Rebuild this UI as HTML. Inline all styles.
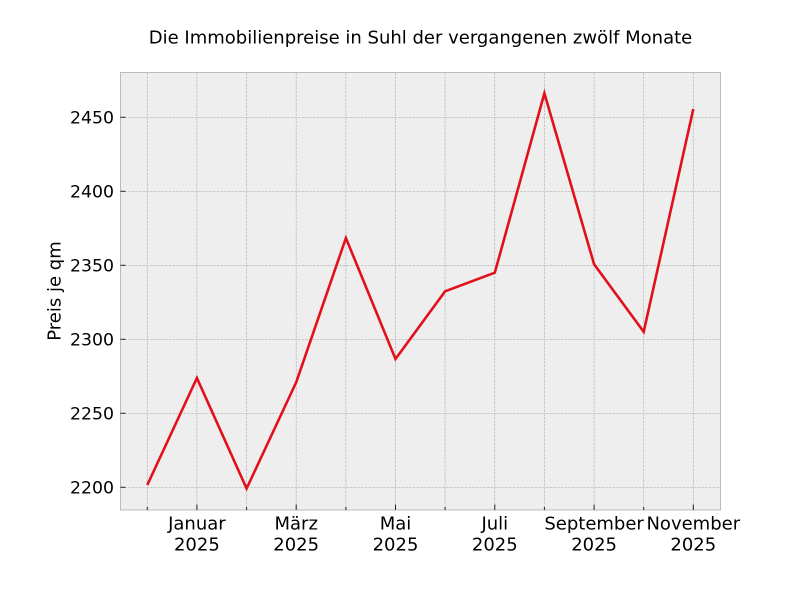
<!DOCTYPE html>
<html><head><meta charset="utf-8"><style>
html,body{margin:0;padding:0;background:#fff;}
svg{display:block;}
text{font-family:"DejaVu Sans","Liberation Sans",sans-serif;fill:#000;}
</style></head><body>
<svg width="800" height="600" viewBox="0 0 800 600" xmlns="http://www.w3.org/2000/svg">
<rect x="0" y="0" width="800" height="600" fill="#fff"/>
<rect x="120.5" y="72.5" width="600" height="437.5" fill="#eeeeee"/>
<g stroke="#b2b2b2" stroke-width="0.7" stroke-dasharray="2.6 1.1" fill="none">
<line x1="147.3" y1="72.5" x2="147.3" y2="510"/>
<line x1="196.9" y1="72.5" x2="196.9" y2="510"/>
<line x1="246.6" y1="72.5" x2="246.6" y2="510"/>
<line x1="296.2" y1="72.5" x2="296.2" y2="510"/>
<line x1="345.9" y1="72.5" x2="345.9" y2="510"/>
<line x1="395.5" y1="72.5" x2="395.5" y2="510"/>
<line x1="445.1" y1="72.5" x2="445.1" y2="510"/>
<line x1="494.8" y1="72.5" x2="494.8" y2="510"/>
<line x1="544.4" y1="72.5" x2="544.4" y2="510"/>
<line x1="594.1" y1="72.5" x2="594.1" y2="510"/>
<line x1="643.7" y1="72.5" x2="643.7" y2="510"/>
<line x1="693.3" y1="72.5" x2="693.3" y2="510"/>
<line x1="120.5" y1="487.3" x2="720.5" y2="487.3"/>
<line x1="120.5" y1="413.3" x2="720.5" y2="413.3"/>
<line x1="120.5" y1="339.3" x2="720.5" y2="339.3"/>
<line x1="120.5" y1="265.3" x2="720.5" y2="265.3"/>
<line x1="120.5" y1="191.3" x2="720.5" y2="191.3"/>
<line x1="120.5" y1="117.3" x2="720.5" y2="117.3"/>
</g>
<polyline fill="none" stroke="#e2101c" stroke-width="2.6" stroke-linejoin="miter"
points="147.3,485 196.9,378 246.6,488.5 296.2,382.3 345.9,238 395.5,359 445.1,291.3 494.8,272.7 544.4,93.3 594.1,264.3 643.7,331.8 693.3,109"/>
<rect x="120.5" y="72.5" width="600" height="437.5" fill="none" stroke="#bcbcbc" stroke-width="1"/>
<g stroke="#222" stroke-width="1">
<line x1="120.5" y1="487.3" x2="125.5" y2="487.3"/>
<line x1="120.5" y1="413.3" x2="125.5" y2="413.3"/>
<line x1="120.5" y1="339.3" x2="125.5" y2="339.3"/>
<line x1="120.5" y1="265.3" x2="125.5" y2="265.3"/>
<line x1="120.5" y1="191.3" x2="125.5" y2="191.3"/>
<line x1="120.5" y1="117.3" x2="125.5" y2="117.3"/>
<line x1="196.9" y1="510" x2="196.9" y2="504.5"/>
<line x1="296.2" y1="510" x2="296.2" y2="504.5"/>
<line x1="395.5" y1="510" x2="395.5" y2="504.5"/>
<line x1="494.8" y1="510" x2="494.8" y2="504.5"/>
<line x1="594.1" y1="510" x2="594.1" y2="504.5"/>
<line x1="693.3" y1="510" x2="693.3" y2="504.5"/>
<line x1="147.3" y1="510" x2="147.3" y2="507"/>
<line x1="246.6" y1="510" x2="246.6" y2="507"/>
<line x1="345.9" y1="510" x2="345.9" y2="507"/>
<line x1="445.1" y1="510" x2="445.1" y2="507"/>
<line x1="544.4" y1="510" x2="544.4" y2="507"/>
<line x1="643.7" y1="510" x2="643.7" y2="507"/>
</g>
<g font-size="17.3" text-anchor="end">
<text x="114" y="493.5">2200</text>
<text x="114" y="419.5">2250</text>
<text x="114" y="345.5">2300</text>
<text x="114" y="271.5">2350</text>
<text x="114" y="197.5">2400</text>
<text x="114" y="123.5">2450</text>
</g>
<g font-size="18" text-anchor="middle">
<text x="196.9" y="529.5">Januar</text><text x="196.9" y="550.5">2025</text>
<text x="296.2" y="529.5">März</text><text x="296.2" y="550.5">2025</text>
<text x="395.5" y="529.5">Mai</text><text x="395.5" y="550.5">2025</text>
<text x="494.8" y="529.5">Juli</text><text x="494.8" y="550.5">2025</text>
<text x="594.1" y="529.5">September</text><text x="594.1" y="550.5">2025</text>
<text x="693.3" y="529.5">November</text><text x="693.3" y="550.5">2025</text>
</g>
<text x="420.5" y="43.5" font-size="18" text-anchor="middle">Die Immobilienpreise in Suhl der vergangenen zwölf Monate</text>
<text x="0" y="0" font-size="18" text-anchor="middle" transform="translate(60.5,291) rotate(-90)">Preis je qm</text>
</svg>
</body></html>
